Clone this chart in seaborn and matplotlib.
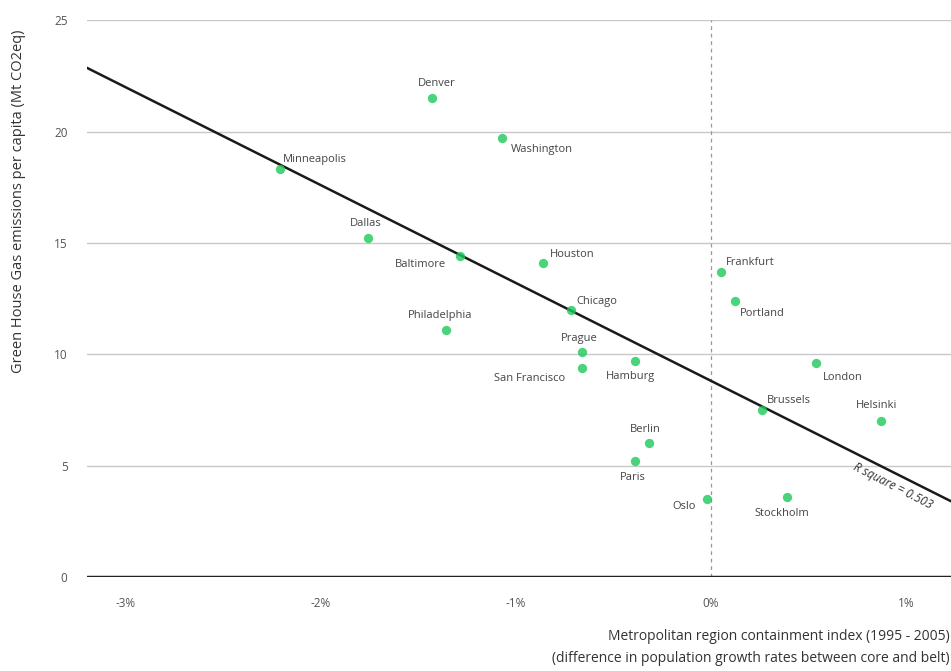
import numpy as np
import pandas as pd
import matplotlib
matplotlib.use("Agg")
import matplotlib.pyplot as plt
import seaborn as sns

# data
cities = ["Denver", "Washington", "Minneapolis", "Dallas", "Baltimore", "Houston",
          "Philadelphia", "Chicago", "Prague", "San Francisco", "Hamburg", "Frankfurt",
          "Portland", "London", "Brussels", "Helsinki", "Berlin", "Paris", "Oslo", "Stockholm"]
containment = [-1.43, -1.07, -2.21, -1.76, -1.29, -0.86,
               -1.36, -0.72, -0.66, -0.66, -0.39, 0.05,
               0.12, 0.54, 0.26, 0.87, -0.32, -0.39, -0.02, 0.39]
emissions = [21.5, 19.7, 18.3, 15.2, 14.4, 14.1,
             11.1, 12.0, 10.1, 9.4, 9.7, 13.7,
             12.4, 9.6, 7.5, 7.0, 6.0, 5.2, 3.5, 3.6]
x_ticks = [-3, -2, -1, 0, 1]
y_ticks = [0, 5, 10, 15, 20, 25]

df = pd.DataFrame({"city": cities, "x": containment, "y": emissions})

# label placement: (dx, dy in pixels, horizontal alignment)
label_pos = {
    "Denver": (4, 15, "center"), "Washington": (8, -11, "left"),
    "Minneapolis": (3, 10, "left"), "Dallas": (-2, 15, "center"),
    "Baltimore": (-14, -8, "right"), "Houston": (6, 8, "left"),
    "Philadelphia": (-6, 14, "center"), "Chicago": (6, 8, "left"),
    "Prague": (-3, 14, "center"), "San Francisco": (-17, -11, "right"),
    "Hamburg": (-5, -16, "center"), "Frankfurt": (5, 9, "left"),
    "Portland": (5, -13, "left"), "London": (6, -14, "left"),
    "Brussels": (5, 9, "left"), "Helsinki": (-4, 16, "center"),
    "Berlin": (-3, 14, "center"), "Paris": (-2, -16, "center"),
    "Oslo": (-11, -7, "right"), "Stockholm": (-5, -17, "center"),
}

sns.set_style("white")
plt.rcParams["font.family"] = ["Open Sans", "DejaVu Sans"]

fig = plt.figure(figsize=(9.51, 6.71), dpi=100)
ax = fig.add_axes([0.0915, 0.140, 0.9085, 0.830])

ax.set_xlim(-3.2, 1.23)
ax.set_ylim(0, 25)

for yv in y_ticks[1:]:
    ax.axhline(yv, color="#c8c8c8", lw=1, zorder=0)
ax.axhline(0, color="#222222", lw=2.5, zorder=1)
ax.axvline(0, color="#999999", lw=0.9, ls=(0, (3, 3)), zorder=0)

sns.regplot(data=df, x="x", y="y", ax=ax, ci=None, truncate=False,
            scatter_kws=dict(s=45, color="#1ec85a", zorder=3, linewidths=0),
            line_kws=dict(color="#1a1a1a", lw=1.8, zorder=2))

for c, xv, yv in zip(cities, containment, emissions):
    dx, dy, ha = label_pos[c]
    ax.annotate(c, (xv, yv), xytext=(dx, dy), textcoords="offset pixels",
                ha=ha, va="center", fontsize=8, color="#444444")

ax.text(0.93, 4.1, "R square = 0.503", rotation=-27, ha="center", va="center",
        fontsize=8.5, color="#333333", style="italic")

sns.despine(ax=ax, left=True, bottom=True, top=True, right=True)
ax.set_xticks(x_ticks)
ax.set_xticklabels([f"{v}%" for v in x_ticks])
ax.set_yticks(y_ticks)
ax.tick_params(length=0, labelsize=8.5, labelcolor="#555555")
ax.tick_params(axis="x", pad=14)
ax.tick_params(axis="y", pad=14)
ax.set_xlabel("")
ax.set_ylabel("")

fig.text(0.999, 0.035, "Metropolitan region containment index (1995 - 2005)\n"
         "(difference in population growth rates between core and belt)",
         ha="right", va="center", fontsize=10, color="#333333", linespacing=1.6)
fig.text(0.019, 0.70, "Green House Gas emissions per capita (Mt CO2eq)",
         rotation=90, ha="center", va="center", fontsize=10.5, color="#333333")

fig.savefig("out.png", dpi=100)
